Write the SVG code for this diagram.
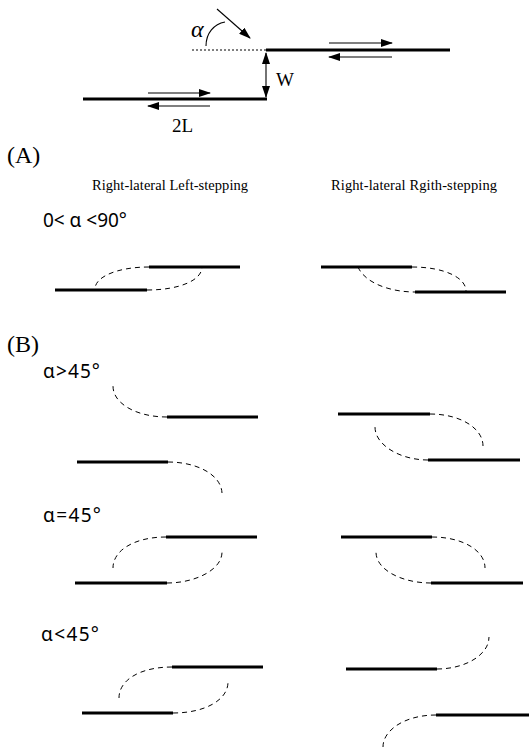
<svg xmlns="http://www.w3.org/2000/svg" width="529" height="747" viewBox="0 0 529 747">
<style>
.fault{stroke:#000;stroke-width:2.8;fill:none}
.dash{stroke:#000;stroke-width:1;fill:none;stroke-dasharray:5,4}
.thin{stroke:#000;stroke-width:1.1;fill:none}
.serif{font-family:"Liberation Serif","Times New Roman",serif;fill:#000}
.sans{font-family:"Noto Sans","DejaVu Sans",sans-serif;fill:#000;font-size:19px}
</style>
<defs>
<marker id="ah" markerWidth="12" markerHeight="8" refX="11" refY="4" orient="auto" markerUnits="userSpaceOnUse">
<path d="M0,0 L12,4 L0,8 Z" fill="#000"/>
</marker>
</defs>
<rect width="529" height="747" fill="#fff"/>
<g id="top">
<line x1="192" y1="50" x2="266" y2="50" stroke="#000" stroke-width="1" stroke-dasharray="2,2"/>
<line class="fault" x1="266" y1="50" x2="450" y2="50"/>
<line class="fault" x1="83" y1="99" x2="267" y2="99"/>
<line class="thin" x1="329" y1="43" x2="392" y2="43" marker-end="url(#ah)"/>
<line class="thin" x1="392" y1="57" x2="329" y2="57" marker-end="url(#ah)"/>
<line class="thin" x1="148" y1="93" x2="210" y2="93" marker-end="url(#ah)"/>
<line class="thin" x1="210" y1="106" x2="148" y2="106" marker-end="url(#ah)"/>
<line class="thin" x1="266" y1="63" x2="266" y2="53" marker-end="url(#ah)"/>
<line class="thin" x1="266" y1="86" x2="266" y2="97" marker-end="url(#ah)"/>
<line class="thin" x1="266" y1="62" x2="266" y2="87"/>
<line class="thin" x1="217" y1="9" x2="250" y2="38" marker-end="url(#ah)"/>
<path class="thin" d="M206,46 C206,33 214,24 225,22"/>
<text class="serif" x="191" y="37" font-size="24" font-style="italic">α</text>
<text class="serif" x="276" y="86" font-size="19">W</text>
<text class="serif" x="172" y="132" font-size="19">2L</text>
</g>
<g id="labels">
<text class="serif" x="7" y="163" font-size="24">(A)</text>
<text class="serif" x="92" y="190" font-size="14.5" textLength="156">Right-lateral Left-stepping</text>
<text class="serif" x="331" y="190" font-size="14.5" textLength="166">Right-lateral Rgith-stepping</text>
<text class="sans" x="43" y="227" textLength="84">0&lt; α &lt;90°</text>
<text class="serif" x="7" y="352" font-size="24">(B)</text>
<text class="sans" x="43" y="378" textLength="57">α&gt;45°</text>
<text class="sans" x="43" y="522" textLength="58">α=45°</text>
<text class="sans" x="41" y="641" textLength="58">α&lt;45°</text>
</g>
<g id="A-left">
<line class="fault" x1="149" y1="267" x2="240" y2="267"/>
<line class="fault" x1="55" y1="290" x2="147" y2="290"/>
<path class="dash" d="M149,267 C117,267 95,277 95,289"/>
<path class="dash" d="M147,290 C180,290 202,280 202,267"/>
</g>
<g id="A-right">
<line class="fault" x1="321" y1="267" x2="412" y2="267"/>
<line class="fault" x1="415" y1="292" x2="506" y2="292"/>
<path class="dash" d="M412,267 C445,267 466,278 466,291"/>
<path class="dash" d="M358,267 C365,283 390,292 415,292"/>
</g>
<g id="B1-left">
<line class="fault" x1="167" y1="417" x2="258" y2="417"/>
<line class="fault" x1="77" y1="462" x2="168" y2="462"/>
<path class="dash" d="M167,417 C137,417 113,404 113,386"/>
<path class="dash" d="M168,462 C196,462 221,474 222,493"/>
</g>
<g id="B1-right">
<line class="fault" x1="338" y1="414" x2="430" y2="414"/>
<line class="fault" x1="428" y1="460" x2="520" y2="460"/>
<path class="dash" d="M430,414 C460,414 483,428 483,446"/>
<path class="dash" d="M428,460 C400,460 375,445 375,427"/>
</g>
<g id="B2-left">
<line class="fault" x1="166" y1="537" x2="257" y2="537"/>
<line class="fault" x1="75" y1="583" x2="167" y2="583"/>
<path class="dash" d="M166,537 C135,537 113,550 113,568"/>
<path class="dash" d="M167,583 C195,583 222,570 222,552"/>
</g>
<g id="B2-right">
<line class="fault" x1="341" y1="537" x2="432" y2="537"/>
<line class="fault" x1="431" y1="583" x2="523" y2="583"/>
<path class="dash" d="M432,537 C462,537 485,550 485,568"/>
<path class="dash" d="M431,583 C402,583 376,570 376,552"/>
</g>
<g id="B3-left">
<line class="fault" x1="172" y1="667" x2="263" y2="667"/>
<line class="fault" x1="82" y1="713" x2="173" y2="713"/>
<path class="dash" d="M172,667 C140,667 119,680 119,698"/>
<path class="dash" d="M173,713 C205,713 228,700 228,682"/>
</g>
<g id="B3-right">
<line class="fault" x1="346" y1="669" x2="437" y2="669"/>
<line class="fault" x1="436" y1="715" x2="529" y2="715"/>
<path class="dash" d="M437,669 C465,669 489,655 489,637"/>
<path class="dash" d="M436,715 C405,715 383,730 383,747"/>
</g>
</svg>
